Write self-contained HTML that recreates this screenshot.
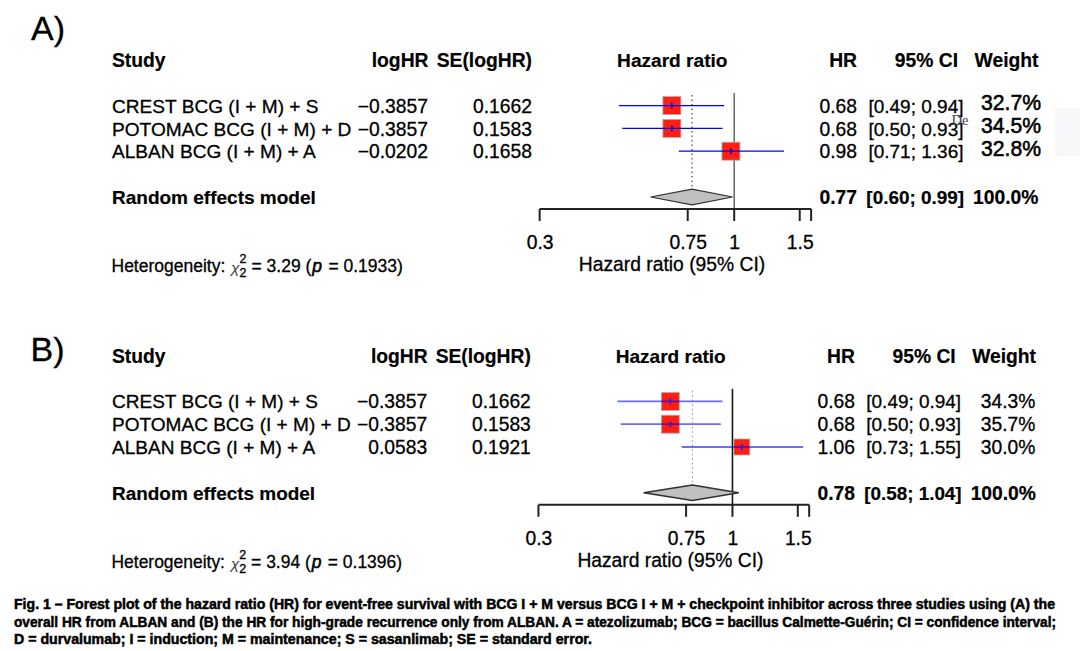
<!DOCTYPE html>
<html><head><meta charset="utf-8"><style>
html,body{margin:0;padding:0;background:#fff;width:1080px;height:651px;overflow:hidden}
svg{display:block}
text{font-family:"Liberation Sans", sans-serif;fill:#000}
</style></head><body>
<svg width="1080" height="651" viewBox="0 0 1080 651">
<rect x="1055" y="108" width="25" height="48" fill="#f7f7f9"/>
<text x="31.00" y="40.00" font-size="34" text-anchor="start" font-weight="400" stroke="#000" stroke-width="0.3">A)</text>
<text x="112.00" y="66.50" font-size="19.3" text-anchor="start" font-weight="700" stroke="#000" stroke-width="0.2">Study</text>
<text x="428.50" y="66.50" font-size="19.3" text-anchor="end" font-weight="700" stroke="#000" stroke-width="0.2">logHR</text>
<text x="532.00" y="66.50" font-size="19.3" text-anchor="end" font-weight="700" stroke="#000" stroke-width="0.2">SE(logHR)</text>
<text x="672.30" y="66.50" font-size="19.1" text-anchor="middle" font-weight="700" stroke="#000" stroke-width="0.2">Hazard ratio</text>
<text x="857.00" y="66.50" font-size="19.3" text-anchor="end" font-weight="700" stroke="#000" stroke-width="0.2">HR</text>
<text x="958.00" y="66.50" font-size="19.3" text-anchor="end" font-weight="700" stroke="#000" stroke-width="0.2">95% CI</text>
<text x="1038.50" y="66.50" font-size="19.3" text-anchor="end" font-weight="700" stroke="#000" stroke-width="0.2">Weight</text>
<line x1="734.2" y1="93" x2="734.2" y2="209" stroke="#666666" stroke-width="1.5"/>
<text x="112.00" y="112.70" font-size="19.1" text-anchor="start" font-weight="400" stroke="#000" stroke-width="0.3">CREST BCG (I + M) + S</text>
<text x="428.00" y="112.70" font-size="19.3" text-anchor="end" font-weight="400" stroke="#000" stroke-width="0.3">−0.3857</text>
<text x="532.00" y="112.70" font-size="19.3" text-anchor="end" font-weight="400" stroke="#000" stroke-width="0.3">0.1662</text>
<text x="857.00" y="112.70" font-size="19.3" text-anchor="end" font-weight="400" stroke="#000" stroke-width="0.3">0.68</text>
<text x="963.50" y="112.70" font-size="19.0" text-anchor="end" font-weight="400" stroke="#000" stroke-width="0.3">[0.49; 0.94]</text>
<text x="1041.00" y="110.20" font-size="21.2" text-anchor="end" font-weight="400" stroke="#000" stroke-width="0.55">32.7%</text>
<rect x="662.88" y="96.60" width="18" height="18" fill="#ff1e12" stroke="#b0b0b0" stroke-width="0.8"/>
<line x1="618.92" y1="105.60" x2="724.20" y2="105.60" stroke="#0000ff" stroke-width="1.3" stroke-opacity="1"/>
<line x1="671.88" y1="102.60" x2="671.88" y2="108.60" stroke="#0000c0" stroke-width="1.3"/>
<text x="112.00" y="135.50" font-size="19.1" text-anchor="start" font-weight="400" stroke="#000" stroke-width="0.3">POTOMAC BCG (I + M) + D</text>
<text x="428.00" y="135.50" font-size="19.3" text-anchor="end" font-weight="400" stroke="#000" stroke-width="0.3">−0.3857</text>
<text x="532.00" y="135.50" font-size="19.3" text-anchor="end" font-weight="400" stroke="#000" stroke-width="0.3">0.1583</text>
<text x="857.00" y="135.50" font-size="19.3" text-anchor="end" font-weight="400" stroke="#000" stroke-width="0.3">0.68</text>
<text x="963.50" y="135.50" font-size="19.0" text-anchor="end" font-weight="400" stroke="#000" stroke-width="0.3">[0.50; 0.93]</text>
<text x="1041.00" y="133.00" font-size="21.2" text-anchor="end" font-weight="400" stroke="#000" stroke-width="0.55">34.5%</text>
<rect x="662.88" y="119.40" width="18" height="18" fill="#ff1e12" stroke="#b0b0b0" stroke-width="0.8"/>
<line x1="622.19" y1="128.40" x2="722.47" y2="128.40" stroke="#0000ff" stroke-width="1.3" stroke-opacity="1"/>
<line x1="671.88" y1="125.40" x2="671.88" y2="131.40" stroke="#0000c0" stroke-width="1.3"/>
<text x="112.00" y="158.30" font-size="19.1" text-anchor="start" font-weight="400" stroke="#000" stroke-width="0.3">ALBAN BCG (I + M) + A</text>
<text x="428.00" y="158.30" font-size="19.3" text-anchor="end" font-weight="400" stroke="#000" stroke-width="0.3">−0.0202</text>
<text x="532.00" y="158.30" font-size="19.3" text-anchor="end" font-weight="400" stroke="#000" stroke-width="0.3">0.1658</text>
<text x="857.00" y="158.30" font-size="19.3" text-anchor="end" font-weight="400" stroke="#000" stroke-width="0.3">0.98</text>
<text x="963.50" y="158.30" font-size="19.0" text-anchor="end" font-weight="400" stroke="#000" stroke-width="0.3">[0.71; 1.36]</text>
<text x="1041.00" y="155.80" font-size="21.2" text-anchor="end" font-weight="400" stroke="#000" stroke-width="0.55">32.8%</text>
<rect x="721.94" y="142.20" width="18" height="18" fill="#ff1e12" stroke="#b0b0b0" stroke-width="0.8"/>
<line x1="678.85" y1="151.20" x2="783.89" y2="151.20" stroke="#0000ff" stroke-width="1.3" stroke-opacity="1"/>
<line x1="730.94" y1="148.20" x2="730.94" y2="154.20" stroke="#0000c0" stroke-width="1.3"/>
<text x="112.00" y="204.20" font-size="19.0" text-anchor="start" font-weight="700" stroke="#000" stroke-width="0.2">Random effects model</text>
<text x="857.00" y="204.20" font-size="19.3" text-anchor="end" font-weight="700" stroke="#000" stroke-width="0.2">0.77</text>
<text x="964.00" y="204.20" font-size="18.9" text-anchor="end" font-weight="700" stroke="#000" stroke-width="0.2">[0.60; 0.99]</text>
<text x="1038.50" y="204.20" font-size="19.3" text-anchor="end" font-weight="700" stroke="#000" stroke-width="0.2">100.0%</text>
<polygon points="650.65,197 691.96,189.2 732.58,197 691.96,204.8" fill="#c0c0c0" stroke="#303030" stroke-width="1.2"/>
<line x1="691.96" y1="95" x2="691.96" y2="189" stroke="#202020" stroke-width="1" stroke-dasharray="1.5 3"/>
<line x1="539.64" y1="209" x2="811.12" y2="209" stroke="#222" stroke-width="2.0"/>
<line x1="539.64" y1="209" x2="539.64" y2="221" stroke="#222" stroke-width="2.0"/>
<line x1="687.71" y1="209" x2="687.71" y2="221" stroke="#222" stroke-width="2.0"/>
<line x1="734.20" y1="209" x2="734.20" y2="221" stroke="#222" stroke-width="2.0"/>
<line x1="799.72" y1="209" x2="799.72" y2="221" stroke="#222" stroke-width="2.0"/>
<line x1="811.12" y1="209" x2="811.12" y2="221" stroke="#222" stroke-width="2.0"/>
<text x="540.14" y="249.00" font-size="19.3" text-anchor="middle" font-weight="400" stroke="#000" stroke-width="0.3">0.3</text>
<text x="688.21" y="249.00" font-size="19.3" text-anchor="middle" font-weight="400" stroke="#000" stroke-width="0.3">0.75</text>
<text x="734.70" y="249.00" font-size="19.3" text-anchor="middle" font-weight="400" stroke="#000" stroke-width="0.3">1</text>
<text x="800.22" y="249.00" font-size="19.3" text-anchor="middle" font-weight="400" stroke="#000" stroke-width="0.3">1.5</text>
<text x="672.00" y="271.40" font-size="19.3" text-anchor="middle" font-weight="400" stroke="#000" stroke-width="0.3">Hazard ratio (95% CI)</text>
<text x="111.50" y="272.30" font-size="17.5" text-anchor="start" font-weight="400" stroke="#000" stroke-width="0.3">Heterogeneity:</text>
<text x="231.00" y="272.80" font-size="15.5" text-anchor="start" font-weight="400" font-style="italic" style="fill:#404040">χ</text>
<text x="239.60" y="263.30" font-size="12.5" text-anchor="start" font-weight="400" stroke="#000" stroke-width="0.35">2</text>
<text x="239.60" y="277.40" font-size="12.5" text-anchor="start" font-weight="400" stroke="#000" stroke-width="0.35">2</text>
<text x="251.5" y="272.30" font-size="17.5" stroke="#000" stroke-width="0.3">= 3.29 (<tspan font-style="italic" stroke-width="0.6" dx="1">p</tspan><tspan dx="1.5"> = 0.1933)</tspan></text>
<text x="30.50" y="361.00" font-size="34" text-anchor="start" font-weight="400" stroke="#000" stroke-width="0.3">B)</text>
<g transform="translate(112,0) scale(0.9972,1) translate(-112,0)">
<text x="112.00" y="363.00" font-size="19.3" text-anchor="start" font-weight="700" stroke="#000" stroke-width="0.2">Study</text>
<text x="428.50" y="363.00" font-size="19.3" text-anchor="end" font-weight="700" stroke="#000" stroke-width="0.2">logHR</text>
<text x="532.00" y="363.00" font-size="19.3" text-anchor="end" font-weight="700" stroke="#000" stroke-width="0.2">SE(logHR)</text>
<text x="672.30" y="363.00" font-size="19.1" text-anchor="middle" font-weight="700" stroke="#000" stroke-width="0.2">Hazard ratio</text>
<text x="857.00" y="363.00" font-size="19.3" text-anchor="end" font-weight="700" stroke="#000" stroke-width="0.2">HR</text>
<text x="958.00" y="363.00" font-size="19.3" text-anchor="end" font-weight="700" stroke="#000" stroke-width="0.2">95% CI</text>
<text x="1038.50" y="363.00" font-size="19.3" text-anchor="end" font-weight="700" stroke="#000" stroke-width="0.2">Weight</text>
<line x1="734.2" y1="388.8" x2="734.2" y2="504.8" stroke="#151515" stroke-width="1.6"/>
<text x="112.00" y="408.50" font-size="19.1" text-anchor="start" font-weight="400" stroke="#000" stroke-width="0.3">CREST BCG (I + M) + S</text>
<text x="428.00" y="408.50" font-size="19.3" text-anchor="end" font-weight="400" stroke="#000" stroke-width="0.3">−0.3857</text>
<text x="532.00" y="408.50" font-size="19.3" text-anchor="end" font-weight="400" stroke="#000" stroke-width="0.3">0.1662</text>
<text x="857.00" y="408.50" font-size="19.3" text-anchor="end" font-weight="400" stroke="#000" stroke-width="0.3">0.68</text>
<text x="963.50" y="408.50" font-size="19.0" text-anchor="end" font-weight="400" stroke="#000" stroke-width="0.3">[0.49; 0.94]</text>
<text x="1038.00" y="408.50" font-size="19.3" text-anchor="end" font-weight="400" stroke="#000" stroke-width="0.3">34.3%</text>
<rect x="662.88" y="392.40" width="18" height="18" fill="#ff1e12" stroke="#b0b0b0" stroke-width="0.8"/>
<line x1="618.92" y1="401.40" x2="724.20" y2="401.40" stroke="#0000ff" stroke-width="1.8" stroke-opacity="0.58"/>
<line x1="671.88" y1="398.40" x2="671.88" y2="404.40" stroke="#3a18e0" stroke-width="1.7"/>
<text x="112.00" y="431.30" font-size="19.1" text-anchor="start" font-weight="400" stroke="#000" stroke-width="0.3">POTOMAC BCG (I + M) + D</text>
<text x="428.00" y="431.30" font-size="19.3" text-anchor="end" font-weight="400" stroke="#000" stroke-width="0.3">−0.3857</text>
<text x="532.00" y="431.30" font-size="19.3" text-anchor="end" font-weight="400" stroke="#000" stroke-width="0.3">0.1583</text>
<text x="857.00" y="431.30" font-size="19.3" text-anchor="end" font-weight="400" stroke="#000" stroke-width="0.3">0.68</text>
<text x="963.50" y="431.30" font-size="19.0" text-anchor="end" font-weight="400" stroke="#000" stroke-width="0.3">[0.50; 0.93]</text>
<text x="1038.00" y="431.30" font-size="19.3" text-anchor="end" font-weight="400" stroke="#000" stroke-width="0.3">35.7%</text>
<rect x="662.88" y="415.20" width="18" height="18" fill="#ff1e12" stroke="#b0b0b0" stroke-width="0.8"/>
<line x1="622.19" y1="424.20" x2="722.47" y2="424.20" stroke="#0000ff" stroke-width="1.8" stroke-opacity="0.58"/>
<line x1="671.88" y1="421.20" x2="671.88" y2="427.20" stroke="#3a18e0" stroke-width="1.7"/>
<text x="112.00" y="454.10" font-size="19.1" text-anchor="start" font-weight="400" stroke="#000" stroke-width="0.3">ALBAN BCG (I + M) + A</text>
<text x="428.00" y="454.10" font-size="19.3" text-anchor="end" font-weight="400" stroke="#000" stroke-width="0.3">0.0583</text>
<text x="532.00" y="454.10" font-size="19.3" text-anchor="end" font-weight="400" stroke="#000" stroke-width="0.3">0.1921</text>
<text x="857.00" y="454.10" font-size="19.3" text-anchor="end" font-weight="400" stroke="#000" stroke-width="0.3">1.06</text>
<text x="963.50" y="454.10" font-size="19.0" text-anchor="end" font-weight="400" stroke="#000" stroke-width="0.3">[0.73; 1.55]</text>
<text x="1038.00" y="454.10" font-size="19.3" text-anchor="end" font-weight="400" stroke="#000" stroke-width="0.3">30.0%</text>
<rect x="735.62" y="439.00" width="16" height="16" fill="#ff1e12" stroke="#b0b0b0" stroke-width="0.8"/>
<line x1="683.34" y1="447.00" x2="805.02" y2="447.00" stroke="#0000ff" stroke-width="1.8" stroke-opacity="0.58"/>
<line x1="743.62" y1="444.00" x2="743.62" y2="450.00" stroke="#3a18e0" stroke-width="1.7"/>
<text x="112.00" y="500.00" font-size="19.0" text-anchor="start" font-weight="700" stroke="#000" stroke-width="0.2">Random effects model</text>
<text x="857.00" y="500.00" font-size="19.3" text-anchor="end" font-weight="700" stroke="#000" stroke-width="0.2">0.78</text>
<text x="964.00" y="500.00" font-size="18.9" text-anchor="end" font-weight="700" stroke="#000" stroke-width="0.2">[0.58; 1.04]</text>
<text x="1038.50" y="500.00" font-size="19.3" text-anchor="end" font-weight="700" stroke="#000" stroke-width="0.2">100.0%</text>
<polygon points="645.17,492.8 694.05,485.0 740.54,492.8 694.05,500.6" fill="#c0c0c0" stroke="#303030" stroke-width="1.5"/>
<line x1="694.05" y1="390.8" x2="694.05" y2="484.8" stroke="#8a8a8a" stroke-width="1" stroke-dasharray="1.5 3"/>
<line x1="539.64" y1="504.8" x2="811.12" y2="504.8" stroke="#222" stroke-width="2.0"/>
<line x1="539.64" y1="504.8" x2="539.64" y2="516.8" stroke="#222" stroke-width="2.0"/>
<line x1="687.71" y1="504.8" x2="687.71" y2="516.8" stroke="#222" stroke-width="2.0"/>
<line x1="734.20" y1="504.8" x2="734.20" y2="516.8" stroke="#222" stroke-width="2.0"/>
<line x1="799.72" y1="504.8" x2="799.72" y2="516.8" stroke="#222" stroke-width="2.0"/>
<line x1="811.12" y1="504.8" x2="811.12" y2="516.8" stroke="#222" stroke-width="2.0"/>
<text x="540.14" y="544.80" font-size="19.3" text-anchor="middle" font-weight="400" stroke="#000" stroke-width="0.3">0.3</text>
<text x="688.21" y="544.80" font-size="19.3" text-anchor="middle" font-weight="400" stroke="#000" stroke-width="0.3">0.75</text>
<text x="734.70" y="544.80" font-size="19.3" text-anchor="middle" font-weight="400" stroke="#000" stroke-width="0.3">1</text>
<text x="800.22" y="544.80" font-size="19.3" text-anchor="middle" font-weight="400" stroke="#000" stroke-width="0.3">1.5</text>
<text x="672.00" y="567.20" font-size="19.3" text-anchor="middle" font-weight="400" stroke="#000" stroke-width="0.3">Hazard ratio (95% CI)</text>
<text x="111.50" y="568.10" font-size="17.5" text-anchor="start" font-weight="400" stroke="#000" stroke-width="0.3">Heterogeneity:</text>
<text x="231.00" y="568.60" font-size="15.5" text-anchor="start" font-weight="400" font-style="italic" style="fill:#404040">χ</text>
<text x="239.60" y="559.10" font-size="12.5" text-anchor="start" font-weight="400" stroke="#000" stroke-width="0.35">2</text>
<text x="239.60" y="573.20" font-size="12.5" text-anchor="start" font-weight="400" stroke="#000" stroke-width="0.35">2</text>
<text x="251.5" y="568.10" font-size="17.5" stroke="#000" stroke-width="0.3">= 3.94 (<tspan font-style="italic" stroke-width="0.6" dx="1">p</tspan><tspan dx="1.5"> = 0.1396)</tspan></text>
</g>
<text x="951.5" y="124.8" font-size="14.5" style="font-family:Liberation Serif;fill:#444">De</text>
<text x="14" y="608.7" font-size="14" font-weight="700" stroke="#000" stroke-width="0.5" textLength="1041" lengthAdjust="spacingAndGlyphs">Fig. 1 – Forest plot of the hazard ratio (HR) for event-free survival with BCG I + M versus BCG I + M + checkpoint inhibitor across three studies using (A) the</text>
<text x="14" y="626.8" font-size="14" font-weight="700" stroke="#000" stroke-width="0.5" textLength="1042" lengthAdjust="spacingAndGlyphs">overall HR from ALBAN and (B) the HR for high-grade recurrence only from ALBAN. A = atezolizumab; BCG = bacillus Calmette-Guérin; CI = confidence interval;</text>
<text x="14" y="644.3" font-size="14" font-weight="700" stroke="#000" stroke-width="0.5" textLength="578" lengthAdjust="spacingAndGlyphs">D = durvalumab; I = induction; M = maintenance; S = sasanlimab; SE = standard error.</text>
</svg>
</body></html>
